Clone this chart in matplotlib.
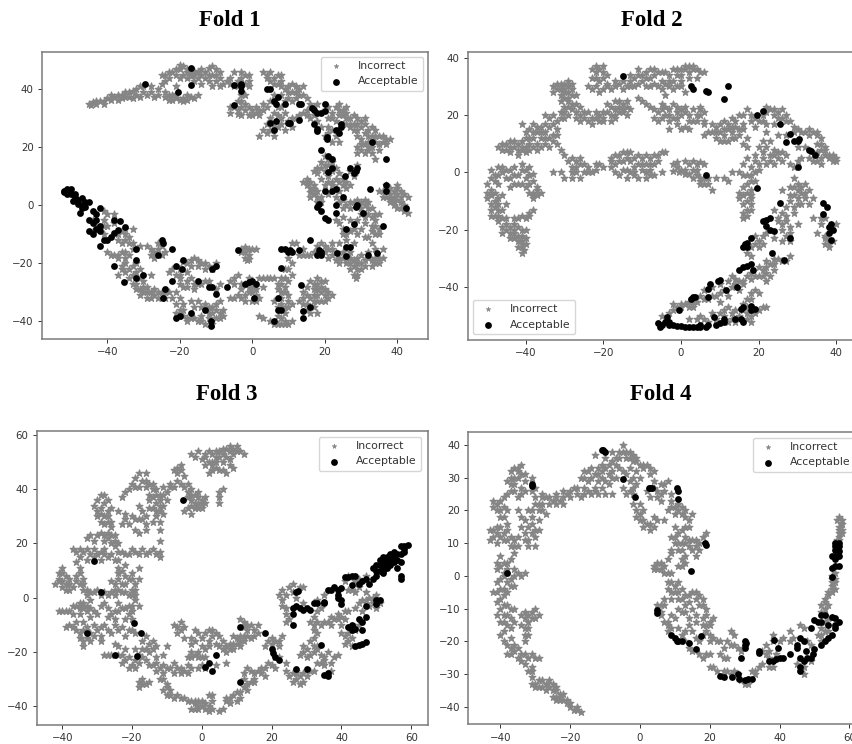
import matplotlib
matplotlib.use("Agg")
import matplotlib.pyplot as plt

W, H = 853, 744

fold1_incorrect = [(-45,35),(-44,35.5),(-43,35),(-42,36),(-41,36),(-40,37),(-39,36.5),(-38,37.5),(-37,38),(-36,38),(-35,39),(-34,39),(-33,39.5),(-32,40),(-31,41),(-33,37),(-36,37),(-30,39),(-29,38),(-28,39),(-27,37.5),(-28,41),(-26,40),
(-25,42),(-24,43),(-25,45),(-23,44),(-22,46),(-21,45),(-20,47),(-19,48),(-18,47),(-17,46),(-20,44),(-18,44),(-16,45),(-15,46),(-14,47),(-13,46),(-12,47.5),(-11,48),(-10,47),(-9,46),(-11,45),(-13,44),(-12,43),(-10,43),(-9,41),(-11,41),(-14,42),(-16,43),(-24,37.5),(-23,38),(-22,36.5),(-21,37),(-20,36.5),(-19,37),(-18,36.5),(-17,37.5),(-16,37),(-24,39),(-21,41),
(-7,43),(-6,42),(-5,41),(-4,43),(-3,44),(-2,45),(-1,45),(-3,46),(-5,46),(-1,43),(-1,41),(-3,38),(-5,34),(-6,32),(-4,33),(-3,36),(-2,35),(-3,31),(-1,34),(0,33),(1,32),(2,33),(3,35),(-1,31),(1,34),
(3,46),(4,45),(5,46),(6,44),(7,45),(8,45),(5,43),(7,42),(9,40),(10,41),(11,42),(12,41),(13,40),(11,39),(12,37),(10,37),(8,38),(14,38),(15,37),(16,35),(6,38),(5,36),(4,34),(8,34),(9,32),(7,31),(5,30),(4,28),(3,26),(2,24),(4,25),(6,24),(7,27),(9,26),(10,29),(12,30),(11,27),(14,32),(16,30),(15,33),(17,31),(18,29),(19,27),(20,33),(21,30),(22,32),(23,34),(24,35),(25,33),(26,34),(24,31),(26,30),(22,26),(21,27),(24,22),(22,22),(20,24),(25,28),
(27,30),(28,31),(29,30),(30,29),(31,30),(29,28),(27,27),(28,26),(30,27),(32,26),(33,27),(34,26),(33,24),(35,24),(36,22),(37,23),(38,23),(35,21),(33,20),(31,21),(30,19),(29,20),(31,18),(33,18),(32,22),(30,23),(29,24),(35,19),(34,16),
(15,9),(16,6),(17,4),(15,8),(17,7),(16,3),(18,3),(19,1),(14,8),(18,11),(17,12),(19,13),(20,12),(21,14),(22,15),(20,17),(19,15),(21,10),(23,9),(24,11),(22,8),(25,9),(20,7),(23,6),(24,5),(26,6),(27,7),(28,10),(27,12),(29,14),(21,4),(23,3),(25,2),(26,0),(27,-1),(28,1),(30,1),(31,2),(32,-1),(33,-4),(30,-3),(29,-5),(34,-5),(35,-3),(33,-9),(34,-7),(35,-10),(36,3),(35,5),(37,5),(38,4),(39,3),(40,6),(41,5),(42,4),(43,3),(38,1),(39,0),(40,2),(41,-1),(42,-2),(37,7),(40,7),(24,-6),(25,-8),(23,-5),(26,-10),(27,-9),(30,-8),(31,-6),(29,-10),(26,-12),(28,-13),(31,-11),(33,-13),(36,-15),
(12,-13),(14,-15),(15,-17),(17,-16),(20,-14),(21,-15),(22,-17),(24,-18),(25,-16),(26,-18),(23,-19),(27,-20),(28,-21),(29,-22),(30,-20),(28,-24),(28.5,-25),(31,-19),(32,-18),(33,-19),(34,-20),(35,-18),(36,-18),(30,-17),(22,-13),(24,-13),(27,-16),
(10,-18),(11,-20),(9,-22),(9,-25),(8,-27),(10,-26),(7,-29),(9,-30),(8,-32),(10,-33),(11,-34),(7,-35),(9,-37),(8,-39),(9,-40),(7,-41),(10,-41),(2,-38),(3,-39),(5,-40),
(16,-26),(18,-25),(20,-26),(19,-28),(17,-29),(21,-30),(20,-31),(22,-31),(18,-31),(15,-31),(14,-30),(13,-33),(15,-34),(17,-33),(19,-33),(16,-37),(18,-37),(17,-35),(20,-29),
(-3,-15),(-2,-16),(-1,-17),(0,-15),(-2,-18),(-1.5,-19),(-1,-25),(-2,-27),(0,-28),(1,-29),(-1,-30),(-2,-31),(0,-33),(1,-33),(2,-32),(-3,-29),(-4,-31),(-5,-32),(-6,-26),(-5,-25),(-4,-24),(2,-25),(4,-25),(5,-25),(6,-25),(3,-28),(-6,-32),
(-17,-19),(-16,-18),(-15,-19),(-14,-20),(-13,-20),(-12,-21),(-11,-22),(-10,-20),(-18,-20),(-20,-22),(-22,-22),(-23,-23),(-20,-25),(-18,-26),(-16,-27),(-14,-27),(-12,-26),(-10,-29),(-9,-27),(-16,-29),(-19,-28),(-21,-30),(-22,-32),(-21,-34),(-20,-36),(-19,-38),(-18,-40),(-16,-39),(-14,-38),(-17,-33),(-15,-33),(-13,-34),(-11,-35),(-10,-36),(-9,-37),(-8,-38),(-12,-37),(-10,-39),(-11,-41),(-13,-41),(-9,-33),
(-44,-5),(-43,-7),(-42,-8),(-44,-9),(-41,-10),(-40,-3),(-38,-6),(-36,-9),(-35,-10),(-37,-12),(-36,-13),(-34,-11),(-33,-13),(-40,-16),(-39,-17),(-38,-17),(-37,-18),(-36,-16),(-35,-18),(-34,-17),(-33,-15),(-31,-14),(-29,-14),(-28,-15),(-27,-16),(-26,-15),(-25,-14),(-24,-16),(-27,-18),(-36,-21),(-35,-23),(-33,-21),(-34,-25),(-32,-23),(-31,-22),(-33,-27),(-32,-29),(-31,-31),(-30,-30),(-29,-28),(-28,-30),(-27,-31),(-26,-32),(-25,-30),(-24,-32),(-23,-30),(-30,-26),(-29,-32),(-28,-24),(-37,-24)]

fold1_incorrect_more = [(-44.5,34.5),(-43,36),(-41,35),(-39,38),(-37,36.5),(-35,37.5),(-34,37.5),(-32,38),(-30,41),(-31,37.5),(-26,38),
(-23,46),(-24,45),(-21,47),(-20,48.5),(-19,45),(-18,46),(-17,44.5),(-16,46.5),(-15,44),(-14,45),(-12,45),(-10,45),(-9,44),(-8,42),(-23,36.5),(-21,38.5),(-19,36),(-18,38),(-15,38),(-22,38),
(-6,44),(-4,41),(-2,42),(-2,38),(-4,36),(-4,31.5),(-2,33),(0,31),(2,31),(3,33),(-3,34),(-6,34),
(4,44),(6,42),(8,43),(8,41),(10,39),(12,39),(13,38),(14,41),(11,36),(9,36),(7,34),(6,32),(8,30),(6,28),(5,26),(8,28),(11,30),(13,31),(15,31),(17,34),(18,35),(21,34),(22,30),(24,33),(25,31),(23,29),(26,32),(23,24),(21,25),
(27,28),(29,26),(31,28),(31,25),(32,24),(34,24),(34,22),(32,20),(30,21),(29,18),(32,19),(28,28),(26,28),(36,24),(37,21),
(15,7),(16,4.5),(17,5.5),(16,8),(18,5),(18,1),(19,3),(18,13),(20,14),(21,16),(22,12),(23,13),(24,8),(25,7),(26,8),(21,8),(22,7),(19,9),
(24,1),(25,-1),(27,1),(29,2),(30,-1),(31,-4),(32,-3),(33,-1),(32,1),(34,-3),(31,0),(33,-7),(35,-8),(34,-10),(32,-11),(28,-8),(27,-5),(25,-10),(25,-4),
(36,5),(38,6),(39,5),(41,3),(40,4),(39,1.5),(40,-1),(41,1),(38,2.5),(42,0),(43,-2.5),(37,3),
(18,-14),(19,-13),(20,-16),(21,-18),(23,-16),(25,-18),(26,-20),(27,-18),(28,-19),(29,-20),(29,-24),(27,-22),(30,-22),(31,-21),(33,-21),(34,-18),(35,-20),(32,-16),(34,-15),(29,-18),(24,-20),(22,-15),(13,-17),(14,-17),(11,-13),(16,-17),
(10,-22),(11,-24),(8,-25),(7,-27),(9,-28),(8,-30),(10,-31),(6,-33),(8,-34),(10,-35),(9,-35),(7,-38),(8,-41),(9,-41),(6,-41),(11,-40),
(15,-28),(17,-27),(18,-27),(19,-30),(21,-32),(20,-33),(16,-32),(14,-32),(18,-33),(15,-36),(14,-34),(18,-29),(19,-26),(17,-31),
(-3,-16),(-1,-15),(-1,-18.5),(-2,-14.5),(1,-15),(-1,-28),(-3,-27),(-2,-33),(-3,-32),(-5,-27),(0,-30),(1,-31),(3,-25),
(-19,-19.5),(-17,-21),(-15,-21),(-13,-22),(-20,-24),(-18,-23),(-21,-24),(-17,-25),(-15,-27),(-13,-26),(-18,-28),(-20,-27),(-20,-32),(-19,-34),(-21,-37),(-19,-36),(-18,-39),(-17,-39),(-15,-40),(-14,-40),(-12,-39),(-11,-37),(-10,-34),(-8,-36),(-9,-39),(-12,-35),(-14,-35),(-16,-35),
(-41,-2),(-41,-5),(-40,-7),(-38,-3),(-37,-10),(-35,-12),(-34,-13),(-33,-8),(-35,-8),(-41,-7),
(-37,-17),(-35,-16),(-32,-20),(-35,-20),(-36,-22),(-34,-22),(-33,-24),(-31,-25),(-32,-27),(-30,-28),(-31,-29),(-29,-30),(-28,-32),(-27,-29),(-25,-32),(-26,-30),(-24,-30),(-28,-17),(-25,-17),(-26,-13)]

fold1_acceptable = [(-52,5),(-51.5,4.5),(-51,5.5),(-50.5,5),(-50,4),(-52,4.5),(-51,4),(-50,5.5),(-49,4),(-49,3),(-49.5,1.5),(-48,2),(-47,2.5),(-48,0.5),(-47,0),(-46,1),(-47,-1),(-46,-0.5),(-47.5,-2.5),(-45,1),(-42,-1),(-44,-2),(-43,-3),(-45,-5),(-43,-5),(-44,-6),(-42,-7),(-43,-8),(-45,-9),(-44,-10),(-42,-9),(-38,-5),(-36.5,-5.5),(-35,-7.5),(-37,-8.5),(-38,-9.5),(-39,-11),(-40,-12),(-41,-12),(-42,-14),(-32,-15),(-32,-19),(-38,-21),(-35.5,-26.5),(-32,-25),(-30,-24),(-25,-12),(-24.5,-13),(-22,-15),(-26,-17),(-21,-21),(-19.5,-22),(-19,-19),(-22,-26),(-24,-29),(-24.5,-32),(-15,-26),(-12,-28),(-11,-28),(-10,-21),(-11,-22),(-7,-28),(-10,-30.5),(-21,-39),(-20,-38),(-17,-37),(-13,-36),(-11.5,-40),(-11.5,-41.5),(-4,-15.5),(-2,-27),(-1,-26.5),(0,-26),(1,-27),(0.5,-32),(7,-32),(7,-36),(8,-36),(6,-40),(8,-21.5),(8,-15),(9,-15),(10,-16),(10.5,-15.5),(11,-16),(13,-15.5),(16,-12),(18.5,-15.5),(18,-17),(19,-16),(19,-17),(13.5,-27.5),(14,-36.5),(14,-39),(16,-35),
(23.5,-16.5),(26,-14.5),(27,-14.5),(26,-17.5),(32,-17),(34.5,-16.5),(26,-8),(28,-6.5),(36,-7),(18,-0.5),(18.5,0.5),(19,-2),(20,-4.5),(21,-5),(23,0),(23,-2.5),(25,3),(20,5),(22,5),(23,5.5),(28.5,-0.5),(29,0),(30.5,-2.5),(32.5,5.5),(37,5),(37,7),(42.5,-1),(37,16),(19,19),(21,17),(22,16),(22,13),(21,11.5),(25.5,10),(27,13),(28,11),(28.5,12),(29,13),(33,22),(20.5,23),(20.5,23.5),(18,25.5),(18,26.5),(17,28),(23,26),(24,25),(24.5,27),(24.5,28),(16.5,33.5),(17,33),(18,32),(19,32),(20,32.5),(20,35),(13,35),(13.5,35),(13,29.5),(10,28.5),(10.5,28.5),(6.5,29),(5,28.5),(6,26),(5,40),(4,40),(6,36),(6.5,35),(7,37.5),(9,35),(-5,34.5),(-5,41.5),(-3,41),(-3,42),(-3,39.5),(-20.5,39),(-17,41.5),(-17,47.5),(-29.5,42)]

fold2_incorrect = [(-50,-9),(-49,-8),(-48,-10),(-47,-9),(-46,-8),(-49,-6),(-50,-4),(-49,-2),(-48,-1),(-49,1),(-47,2),(-46,0),(-45,-2),(-47,-4),(-44,-5),(-42,-4),(-40,-5),(-43,2),(-41,1),(-39,2),(-42,-1),(-40,-2),(-38,-3),(-39,-1),(-45,-11),(-46,-13),(-49,-13),(-48,-15),(-47,-17),(-46,-19),(-45,-20),(-44,-21),(-43,-20),(-45,-16),(-43,-23),(-42,-24),(-41,-25),(-40.5,-27),(-41,-28),(-42,-26),(-40,-25),(-41,-20),(-42,-19),(-41,-22),(-43,-16),(-41,-15),(-40,-16),(-39,-14),(-42,-16),(-38,-13),(-37,-5),(-37,-8),(-38,-9),(-39,-7),(-36,-7),
(-46,8),(-47,9),(-45,10),(-44,11),(-43,9),(-44,7),(-42,6),(-41,8),(-42,10),(-40,9),(-41,11),(-39,10),(-38,12),(-37,10),(-36,12),(-35,14),(-34,16),(-37,14),(-39,15),(-41,17),(-40,14),(-35,10),(-33,11),(-34,9),(-32,13),(-34,19),(-35,20),(-33,20),(-31,21),(-30,19),(-29,20),(-32,18),
(-33,30),(-32,31),(-31,29),(-30,31),(-29,32),(-29,28),(-30,26),(-31,25),(-29,25),(-28,29),(-27,27),(-30,23),(-28,22),(-27,21),(-26,20),(-25,19),(-24,18),(-23,17),(-22,19),(-21,18),(-20,18),(-24,21),(-22,21),(-19,21),(-18,20),(-17,22),(-16,23),(-15,22),(-14,23),(-18,23),(-13,22),(-16,21),
(-23,36),(-22,35),(-21,36),(-20,35),(-20,33),(-21,32),(-23,33),(-24,30),(-23,29),(-22,30),(-21,28),(-20,29),(-19,30),(-18,29),(-17,30),(-16,31),(-15,29),(-14,30),(-13,32),(-12,33),(-11,34),(-10,32),(-12,30),(-9,35),(-8,36),(-7,36),(-6,35),(-5,35),(-4,35),(-3,34),(-8,33),(-6,30),(-5,29),(-4,27),(-3,30),(-2,32),(-1,34),(0,36),(1,37),(2,37),(3,36),(4,36),(5,35),(6,35),(0,30),(1,28),(-11,26),(-10,25),(-9,24),(-8,23),(-7,22),(-7,19),(-6,18),(-5,19),(-4,20),(-3,22),(-2,24),(-1,21),(0,20),(1,21),(2,20),(3,22),(-3,18),(-1,17),(0,15),(1,16),(2,15),(-3,15),(4,20),(5,20),(6,18),(6,21),(4,18),
(-32,10),(-31,8),(-30,6),(-33,0),(-31,0),(-30,-2),(-28,-2),(-28,2),(-27,4),(-26,5),(-28,5),(-25,3),(-24,2),(-23,0),(-22,3),(-21,3),(-20,2),(-25,0),(-26,-2),(-18,5),(-17,6),(-16,6),(-15,7),(-14,7),(-13,7),(-18,2),(-17,0),(-16,-1),(-15,1),(-14,-2),(-13,0),(-15,4),(-12,5),(-11,3),(-10,5),(-9,6),(-8,5),(-7,6),(-6,6),(-5,7),(-4,7),(-12,0),(-11,-2),(-9,-2),(-8,1),(-10,1),(-7,-1),(-5,0),(-2,3),(-1,2),(0,1),(1,4),(2,3),(3,1),(-2,0.5),(4,-1),(5,-3),(6,-2),(7,-4),(8,-6),(4,3),(6,3),(5,-2),(9,-2),(11,-2),(12,-3),
(6,13),(8,14),(9,12),(10,11),(11,13),(12,15),(9,16),(8,17),(12,11),(13,14),(14,16),(15,13),(16,10),(17,9),(14,18),(13,19),(15,20),(16,17),(17,22),(18,20),(20,18),(21,20),(22,23),(23,22),(24,20),(25,21),(26,19),(27,18),(28,18),(19,16),(22,14),(23,11),(25,13),(20,9),(21,7),(23,6),(24,8),(25,5),(26,4),(27,6),(28,3),(24,3),(22,3),(29,2),(30,4),(31,5),(19,4),(17,5),(18,2),(19,0),(16,3),(13,0),(15,0),(17,-1),(19,-3),(18,-6),(17,-7),(16,-5),(15,-7),(17,-10),(18,-11),(18,-13),(16,-14),(17,-15),
(29,-2),(30,-4),(31,-7),(32,-9),(33,-6),(32,-4),(29,-8),(28,-10),(27,-12),(29,-14),(31,-11),(33,-11),(28,-5),(26,-6),(25,-16),(26,-18),(24,-13),(27,-15),(28,-19),(30,-18),(28,-21),(26,-24),(28,-24),(22,-21),(20,-24),(19,-22),(18,-26),(17,-28),(18,-29),(34,-16),(36,-18),(35,-21),(37,-22),(38,-24),(38,-26),(37,-25),(40,-18),(37,-16),
(27,13),(29,14),(30,15),(32,14),(33,13),(34,14),(35,13),(36,12),(35,10),(36,8),(37,6),(36,5),(33,5),(34,4),(38,6),(39,5),(40,5),(39,4),(32,9),(30,9),
(28,-29),(27,-31),(25,-30),(24,-32),(22,-31),(20,-33),(21,-36),(23,-36),(24,-34),(22,-38),(19,-36),(18,-37),(16,-38),(14,-37),(13,-40),(15,-41),(12,-38),(10,-39),(8,-40),(6,-41),(7,-44),(5,-43),(3,-45),(1,-46),(-1,-47),(-2,-48),(0,-47),(2,-47),(-3,-49),(-5,-50),(18,-42),(17,-44),(16,-46),(20,-42),(21,-47),(19,-49),(17,-49),(15,-50),(13,-49),(11,-48),(9,-51),(7,-52),(5,-50),(12,-52),(14,-52),(16,-48),(18,-50),(10,-45)]

fold2_incorrect_more = [(-50,-7),(-48,-7),(-47,-11),(-48,-3),(-47,-1),(-46,2),(-45,1),(-44,-2),(-44,1),(-43,-4),(-41,-4),(-39,-4),(-43,-1),(-41,3),(-40,1),(-38,-0.5),(-49,-11),(-47,-13),(-48,-12),(-49,-15),(-47,-15),(-46,-16),(-45,-18),(-46,-21),(-44,-19),(-44,-23),(-43,-21),(-43,-18),(-42,-22),(-41,-24),(-40,-23),(-40,-20),(-41,-26),(-39,-15),(-37,-6),(-38,-7),(-38,-8),
(-46,10),(-45,8),(-44,9),(-43,11),(-42,8),(-40,7),(-39,8),(-41,9),(-38,9),(-37,8),(-36,9),(-39,12),(-40,12),(-38,14),(-36,14),(-36,16),(-35,17),(-37,16),(-38,17),(-34,12),(-33,13),(-35,12),(-32,15),(-33,17),(-30,21),(-31,19),(-27,19),
(-33,28),(-32,29),(-31,31),(-30,28),(-30,29),(-29,30),(-28,31),(-28,27),(-29,26),(-31,27),(-29,23),(-28,24),(-27,24),(-26,23),(-25,21),(-26,18),(-23,19),(-21,20),(-20,21),(-20,19),(-18,18),(-17,19),(-17,20),(-15,21),(-15,24),(-14,25),(-16,25),(-17,25),(-19,24),(-14,20),
(-22,37),(-20,37),(-19,34),(-22,33),(-19,31),(-17,32),(-15,32),(-13,30),(-11,31),(-13,34),(-10,34),(-9,33),(-11,36),(-9,30),(-8,30),(-7,31),(-7,34),(-5,32),(-3,32),(-4,31),(-1,30),(-2,29),(-2,36),(-1,36),(0,34),(2,35),(3,37),(1,36),(2,33),(4,33),(0,32),
(-5,24),(-6,21),(-5,22),(-4,23),(-3,20),(-2,19),(-1,19),(-1,23),(1,23),(0,22),(2,18),(3,18),(5,22),(5,23),(6,17),
(-29,4),(-27,2),(-27,0),(-28,0),(-26,3),(-24,0),(-22,1),(-18,4),(-16,4),(-17,3),(-14,5),(-13,4),(-14,1),(-12,2),(-10,3),(-11,6),(-9,3),(-9,0),(-8,-1),(-12,-1),(-8,3),(-7,3),(-6,4),
(-1,3.5),(-0.5,0),(1,1),(1,-0.5),(2,-0.5),(3,-2),(4,1),(6,-4),(5,-4),(7,-2),(3,4),(5,3.5),
(7,14),(9,14),(10,14),(11,15),(10,17),(11,18),(12,17),(13,16),(11,11),(13,12),(14,12),(15,15),(16,15),(17,12),(18,18),(19,19),(16,20),(21,18),(22,21),(24,22),(26,22),(25,19),(27,20),(29,16),(24,17),(22,17),(21,11),(22,9),(24,6),(23,4),(25,7),(26,7),(21,5),(19,6),(20,3),(20,1),(18,-1),(16,-1),(18,-3),(17,-4),(16,-8),(18,-8),(15,-9),(16,-11),(18,-9),(17,-13),(16,-16),
(30,-6),(31,-5),(29,-5),(30,-9),(32,-7),(30,-11),(28,-8),(34,-9),(29,-12),(26,-14),(25,-17),(27,-17),(26,-20),(24,-23),(27,-22),(21,-22),(21,-25),(19,-25),(20,-26),(38,-25),(39,-24),(37,-23),(36,-16),
(31,14),(33,15),(35,14),(36,10),(37,9),(37,8),(35,7),(36,3),(35,4),(38,5),(40,4),(39,6),
(26,-31),(24,-30),(23,-32),(22,-33),(21,-34),(20,-36),(22,-35),(18,-35),(17,-36),(16,-39),(15,-38),(14,-39),(13,-36),(11,-41),(10,-42),(12,-43),(9,-43),(8,-43),(6,-44),(4,-45),(2,-45),(0,-46),(-2,-46),(3,-47),(18,-44),(19,-41),(17,-47),(20,-48),(22,-47),(14,-48),(12,-47),(10,-49),(8,-49),(6,-51),(4,-51),(2,-51),(13,-51),(17,-51),(18,-52),(11,-50)]

fold2_acceptable = [(-15,33.5),(2.5,30),(3,29),(6.5,28.5),(7,28),(12,30),(11,25.5),(19.5,20),(21,21.5),(25.5,17),(28,13.5),(27,10.5),(29,11),(30,11),(30.5,11.5),(33,8),(33.5,7.5),(34.5,6),(30,2),(6.5,-1),(19.5,-5.5),(25.5,-10.5),(36.5,-10.5),(37.5,-12),(36.5,-14.5),(38,-19),(38.5,-18),(39,-20),(38,-21),(38.5,-23.5),(21,-17),(22,-16.5),(23,-16),(22,-18.5),(23,-20),(24,-20.5),(28,-23),(18,-23),(17,-24.5),(16.5,-25),(17,-26),(16,-26),(23.5,-28),(26.5,-30.5),(15,-34),(16,-33),(17,-32.5),(18,-32),(18.5,-34),(10,-37.5),(9.5,-38),(7.5,-39),(7,-40.5),(7,-43.5),(14.5,-40),(11.5,-41),(3,-43.5),(2.5,-44),(3.5,-43.5),(-0.5,-48),(15.5,-47.5),(16,-47),(18,-46.5),(18,-48),(19,-47.5),(15.5,-51),(14,-51),(16,-52),(11,-51),(11,-52),(10,-52.5),(9,-53),(8.5,-50.5),(7,-53),(6.5,-54),(5,-53),(5,-54),(4,-54),(3,-54),(2,-54),(1,-54),(0,-53.5),(-1,-53.5),(-2,-53),(-3,-53),(-3,-52),(-4,-52),(-3.5,-50.5),(-5,-53),(-6,-52.5),(-5.5,-54)]

fold3_incorrect = [(-3,53),(-2,52),(0,51),(1,52),(2,50),(3,53),(4,52),(5,54),(6,53),(7,55),(8,54),(9,55),(10,56),(11,54),(12,53),(8,51),(6,50),(4,48),(3,47),(2,46),(5,47),(7,46),(9,48),(-8,47),(-7,48),(-6,49),(-5,45),(-7,43),(-9,42),(-5,41),(-4,42),(-3,40),(-2,38),(-1,37),(0,36),(-2,35),(-1,33),(-4,33),(-5,32),(-3,31),(1,35),(0,33),(5,39),(5,37),(5,35),(6,40),
(-9,41),(-10,39),(-10,36),(-11,34),(-12,32),(-12,28),(-13,30),(-14,33),(-15,36),(-15,38),(-13,40),(-12,38),(-16,41),(-17,43),(-18,46),(-19,44),(-20,42),(-22,39),(-23,37),(-16,46),(-14,42),(-13,35),(-17,32),(-18,34),(-14,28),(-16,27),(-18,24),(-19,25),(-12,25),
(-28,38),(-30,36),(-27,36),(-29,33),(-31,34),(-30,30),(-28,30),(-26,33),(-24,32),(-28,27),(-26,26),(-27,24),(-25,23),(-30,23),(-32,23),(-28,21),(-26,20),(-24,20),(-22,29),(-20,30),(-23,27),
(-25,19),(-23,17),(-21,16),(-19,17),(-17,18),(-15,17),(-13,16),(-12,15),(-12,21),(-37,18),(-35,18),(-34,17),(-32,16),(-33,14),(-35,15),(-29,14),(-27,15),(-25,14),(-31,18),(-28,18),(-35,11),(-36,8),(-34,7),(-35,5),(-34,3),(-33,1),(-31,2),(-29,1),(-27,1),(-25,3),(-23,2),(-21,1),(-25,5),(-24,7),(-26,6),(-22,5),(-20,7),(-19,5),(-22,12),(-23,10),(-18,11),(-20,9),(-19,1),
(-40,9),(-41,7),(-40,6),(-39,8),(-38,7),(-42,5),(-40,4),(-38,3),(-39,3),
(-40,-5),(-38,-5),(-37,-6),(-36,-3),(-35,-4),(-34,-2),(-33,-3),(-32,-1),(-31,-5),(-29,-3),(-27,-4),(-26,-6),(-25,-8),(-24,-2),(-22,-4),(-20,-3),(-19,-1),(-18,-3),(-21,-6),(-38,-10),(-37,-11),(-36,-12),(-34,-9),(-32,-7),(-33,-11),(-33,-15),(-31,-14),(-35,-15),(-34,-18),(-29,-11),(-27,-12),(-25,-10),(-23,-11),(-21,-12),(-19,-13),(-29,-14),
(-28,-21),(-26,-21),(-24,-18),(-23,-21),(-23,-24),(-21,-22),(-20,-25),(-19,-19),(-18,-24),(-17,-19),(-17,-16),(-16,-14),(-15,-17),(-14,-19),(-17,-22),(-15,-25),(-18,-31),(-17,-30),(-16,-32),(-14,-25),(-13,-22),(-12,-26),(-11,-21),(-10,-18),(-12,-30),(-11,-28),(-10,-32),(-9,-34),(-10,-36),
(-7,-36),(-6,-37),(-4,-38),(-2,-38),(0,-38),(-1,-40),(1,-41),(2,-40),(3,-38),(2,-36),(-2,-41),
(-9,-26),(-8,-28),(-7,-26),(-5,-27),(-4,-25),(-3,-22),(-2,-21),(-1,-20),(0,-18),(-3,-17),(1,-22),(2,-18),(3,-14),(2,-12),(-1,-13),(-2,-12),(-7,-11),(-8,-10),(-6,-12),(-5,-15),(-3,-26),(0,-25),(4,-13),(5,-14),(5,-18),(7,-18),(8,-17),(9,-19),(10,-17),(11,-16),(12,-14),(13,-12),(14,-10),(11,-8),(12,-9),(15,-12),(16,-13),(15,-14),(9,-14),(7,-24),(4,-25),(5,-42),(6,-41),(7,-38),(8,-37),(9,-36),(10,-35),(11,-37),(12,-33),(13,-32),(14,-31),(12,-28),(13,-26),(15,-28),(16,-27),(17,-28),(18,-26),(20,-25),(21,-22),(20,-17),(19,-16),(21,-16),(22,-18),(23,-14),(24,-27),(25,-29),(26,-28),(27,-30),(28,-29),(29,-31),(31,-27),(28,-21),(29,-20),(30,-19),(32,-18),(31,-16),(32,-12),(33,-13),(34,-21),(33,-24),(35,-25),(37,-27),(36,-20),(38,-22),(39,-21),(31,-9),(32,-7),(34,-4),(33,-1),(35,1),
(23,-1),(24,1),(25,4),(26,5),(28,4),(24,-4),(25,-8),(29,-2),(36,-9),(37,-10),(38,-8),(39,-6),(41,-5),(40,-10),(42,-13),(43,-15),(41,-17),(44,-11),(46,-5),(46,-1),(47,2),(48,-3),(50,-4),(49,0),(51,-2),(45,4),(44,6),(42,8),(43,3)]

fold3_incorrect_more = [(-1,54),(1,53),(2,54),(4,54),(6,55),(8,56),(9,53),(10,54),(7,52),(5,52),(3,50),(1,49),(3,49),(4,50),(6,47),(8,49),(-7,46),(-6,47),
(-8,41),(-6,42),(-4,39),(-3,38),(-3,36),(-1,35),(-1,39),(-2,33),(-3,34),(0,35),(1,37),(-4,37),
(-11,38),(-11,41),(-13,38),(-14,40),(-15,42),(-16,43),(-18,41),(-21,40),(-19,41),(-14,37),(-12,36),(-11,31),(-13,32),(-12,34),(-15,33),(-16,30),(-17,29),(-16,25),(-19,29),(-18,29),
(-29,38),(-28,35),(-29,31),(-30,32),(-27,32),(-27,30),(-29,28),(-27,28),(-26,28),(-26,23),(-29,24),(-28,23),(-31,21),(-33,22),(-27,22),(-25,21),(-22,31),(-21,27),
(-24,17),(-22,16),(-20,18),(-18,16),(-16,16),(-14,18),(-12,17),(-36,17),(-33,18),(-30,16),(-28,16),(-26,16),(-24,14),(-31,15),(-29,17),(-36,13),(-35,9),(-36,6),(-34,5),(-33,3),(-32,2),(-30,3),(-28,2),(-26,2),(-24,3),(-22,2),(-20,1),(-20,3),(-24,9),(-23,5),(-21,7),(-25,1),(-19,3),(-18,7),(-22,8),(-24,11),
(-41,6),(-39,5),(-38,5),(-41,9),(-40,11),(-37,4),
(-41,-5),(-39,-5),(-37,-3),(-35,-2),(-35,-6),(-33,-5),(-34,-4),(-32,-4),(-30,-6),(-28,-2),(-27,-7),(-25,-5),(-24,-5),(-23,-4),(-21,-3),(-20,-5),(-22,-8),(-20,-8),(-39,-11),(-36,-9),(-34,-12),(-35,-13),(-32,-13),(-32,-16),(-30,-12),(-34,-16),(-28,-10),(-26,-13),(-24,-12),(-22,-14),(-20,-12),(-29,-16),(-31,-10),
(-27,-21),(-25,-17),(-24,-21),(-22,-19),(-22,-23),(-19,-23),(-19,-26),(-21,-26),(-18,-21),(-16,-19),(-16,-23),(-15,-20),(-13,-18),(-14,-16),(-17,-32),(-15,-31),(-18,-33),(-13,-24),(-13,-27),(-11,-25),(-11,-30),(-10,-26),(-10,-33),(-11,-34),(-9,-36),
(-8,-37),(-5,-37),(-3,-38),(-1,-38),(1,-39),(0,-40),(-1,-41),(3,-41),(2,-42),(-2,-39),(3,-36),(-3,-41),
(-8,-24),(-6,-28),(-6,-26),(-4,-28),(-4,-22),(-3,-20),(-1,-22),(0,-22),(1,-19),(0,-15),(-2,-16),(1,-13),(3,-12),(-1,-26),(1,-26),(-6,-9),(-7,-13),(-5,-11),(-3,-15),(2,-16),(4,-17),(6,-16),(6,-19),(7,-20),(9,-17),(8,-19),(11,-18),(12,-16),(13,-14),(14,-15),(12,-11),(13,-10),(11,-14),(16,-10),(10,-15),(7,-37),(8,-39),(10,-38),(11,-35),(13,-34),(15,-31),(12,-30),(14,-27),(15,-30),(17,-26),(18,-29),(19,-24),(21,-26),(22,-22),(18,-18),(20,-15),(22,-16),(24,-24),(27,-27),(26,-31),(28,-32),(27,-28),(29,-28),(30,-29),(32,-27),(32,-20),(31,-21),(33,-18),(30,-22),(29,-18),(32,-15),(33,-19),(35,-22),(35,-23),(37,-24),(34,-24),(32,-10),(33,-9),(33,-5),(34,-10),(35,-9),
(22,1),(23,3),(26,2),(23,-3),(24,-6),(24,-9),(27,0),(29,4),(37,-7),(39,-8),(40,-7),(41,-8),(40,-13),(41,-14),(42,-16),(43,-18),(44,-12),(45,-10),(42,-5),(44,-4),(45,-2),(47,-1),(48,0),(49,-2),(50,1),(42,3),(44,2),(41,6),(45,7),(47,8)]

fold3_acceptable = [(-5.5,36),(-31,13.5),(-29,2),(-33,-13),(-19.5,-9.5),(-17.5,-13),(-25,-21),(-18.5,-21.5),(4,-21),(2,-24),(1,-25.5),(3,-27),(11,-11),(18,-13),(11,-31),(20,-19),(20.5,-20.5),(21,-22),(22,-23),(27,-26.5),(30,-26.5),(34,-17.5),(35,-28.5),(36,-29),(36,-28),
(26,-6),(26,-4),(26,-10),(27,-3),(28,-4),(27,2),(27.5,2.5),(29,-4.5),(30,-4),(31,-4.5),(32,-2),(33,-2),(35,-1.5),(35,-2),(36,3),(37,3),(38,4),(39,3),(40,3.5),(39,1),(39,0),(40,-1),(40,-2.5),(41,7.5),(42,7.5),(43,8),(44,8),(45,5),(43,4.5),(46,6),(47,7),(48,5),(47,-3),(50,-2.5),(51,-1),(50,-1),(47,-7),(45,-8),(46,-9),(43,-10),(42,-11),(43,-12),(44,-11.5),(46,-12),(44,-18),(45,-17.5),(46,-17),(47,-16.5),(49,7),(50,8),(50,10),(49,11),(51,12),(52,10),(52,13),(53,14),(53,15),(54,12),(55,13),(54,16),(56,14),(55,17),(57,16),(57,13),(56,11),(57,8),(57,7),(52,9),(53,11),(58,18),(58,19),(59,19.5),(57,19),(58,17),(51,10),(52,11),(53,12),(54,14),(55,15),(52,15),(56,16),(51,14),(50,12)]

fold4_incorrect = [(-41,22),(-42,21),(-40,20),(-39,18),(-40,23),(-38,25),(-37,28),(-36,30),(-37,32),(-36,33),(-35,33),(-34,34),(-35,30),(-33,29),(-31,30),(-36,26),(-35,24),(-34,25),(-30,24),(-29,22),(-28,25),(-27,24),(-26,22),(-25,23),(-24,22),(-23,23),(-22,24),(-21,25),(-20,26),(-19,27),(-18,25),(-17,24),(-16,25),(-14,25),(-15,26),(-13,26),
(-42,14),(-41,13),(-40,12),(-39,13),(-38,14),(-43,11),(-41,10),(-38,11),(-36,11),(-35,9),(-36,7),(-37,5),(-33,13),(-32,15),(-31,13),(-30,12),(-30,9),(-31,18),(-33,17),(-29,17),(-28,20),(-27,19),(-35,20),(-38,16),(-32,20),(-39,4),(-40,3),(-41,2),(-38,2),(-37,-1),(-40,-1),(-41,-2),(-42,-5),(-39,-4),(-37,-3),(-35,1),(-34,0),(-33,1),(-36,-3),
(-40,-7),(-39,-9),(-41,-12),(-40,-14),(-39,-12),(-38,-15),(-37,-13),(-36,-10),(-37,-16),(-40,-18),(-38,-21),(-37,-22),(-38,-24),(-36,-23),(-35,-25),(-34,-24),(-33,-27),(-32,-29),(-31,-24),(-29,-25),(-34,-12),(-33,-11),(-32,-12),(-31,-13),(-30,-10),(-29,-12),(-33,-16),(-32,-18),(-33,-20),
(-31,-31),(-30,-33),(-29,-32),(-28,-34),(-27,-33),(-26,-34),(-25,-35),(-24,-37),(-23,-38),(-25,-33),(-24,-34),(-22,-36),(-22,-38),(-21,-39),(-20,-40),(-19,-41),(-18,-41),(-17,-41.5),(-23,-36),
(-16,30),(-15,32),(-14,33),(-15,29),(-13,31),(-12,29),(-13,27),(-11,34),(-10,36),(-13,37),(-9,31),(-8,32),(-7,30),(-9,28),(-8,25),(-6,33),(-5,40),(-6,36),(-8,38),(-4,38),(-3,36),(-2,37),(-1,35),(0,34),(2,34),(3,33),(4,32),(-4,31),(-3,29),(-2,27),(-5,27),(-4,25),(-2,22),(-1,20),(0,22),(1,20),(0,17),(1,15),(3,14),(4,15),(5,17),(2,26),(4,27),(5,24),(6,28),(7,26),(8,29),(9,23),(10,21),(8,20),(11,20),(12,19),(13,18),(14,17),(15,19),(7,17),(10,15),(11,13),(9,12),(10,10),(9,8),(11,8),(12,10),(13,6),(14,9),(15,11),(16,6),(17,8),(18,12),(19,13),(12,5),(11,3),(5,4),(4,3),(6,2),(7,3),(8,5),(9,1),(10,-3),(11,-2),(9,-5),(8,-2),(7,-7),(6,-9),(5,-9),(11,-5),(12,-7),(13,-9),(14,-8),(15,-5),(16,-7),(17,-6),(18,-9),(12,-11),(14,-13),(16,-12),(18,-13),(19,-12),(21,-13),(20,-15),(9,-12),(7,-14),(8,-17),(11,-16),(12,-18),(15,-17),(17,-20),(19,-17),(20,-20),(21,-19),(23,-20),(25,-20),(27,-18),(28,-22),(13,-20),(15,-23),(18,-25),(19,-24),(24,-25),(25,-25),(20,-28),(22,-29),(25,-29),(28,-30),(30,-33),(31,-33),(33,-29),(34,-28),(36,-21),(37,-25),(38,-20),(37,-28),(41,-19),(43,-20),(46,-15),(48,-20),(47,-30),(46,-28),(44,-19),(51,-18),(53,-14),(54,-17),(55,-13),(49,-26),
(57,18),(57.5,16),(58,14),(57,12),(58,13),(56.5,11),(56,3),(55,0),(56,-2),(55,-3),(55,-5),(56,-4),(54,-6),(53,-8),(53,-10),(52,-11)]

fold4_incorrect_more = [(-42,23),(-41,20),(-39,21),(-38,20),(-40,18),(-39,24),(-37,26),(-37,30),(-38,29),(-35,32),(-34,31),(-33,31),(-36,28),(-34,27),(-33,26),(-31,26),(-30,27),(-30,22),(-28,22),(-28,24),(-26,24),(-24,24),(-24,25),(-22,22),(-22,26),(-20,24),(-18,27),(-16,27),
(-43,14),(-42,12),(-40,15),(-41,15),(-39,11),(-37,12),(-37,9),(-36,9),(-35,12),(-34,15),(-33,11),(-31,16),(-30,14),(-32,11),(-32,9),(-34,18),(-31,20),(-29,20),(-29,14),(-39,1),(-41,4),(-40,6),(-38,4),(-38,-2),(-39,0),(-41,-5),(-40,-4),(-38,-5),(-39,-6),(-36,0),(-36,2),
(-41,-8),(-40,-10),(-38,-12),(-37,-10),(-38,-9),(-39,-14),(-39,-17),(-36,-14),(-39,-20),(-37,-19),(-36,-21),(-37,-24),(-35,-22),(-34,-26),(-32,-25),(-33,-24),(-31,-28),(-30,-25),(-33,-13),(-31,-11),(-30,-13),(-32,-14),(-34,-15),(-32,-16),(-33,-18),(-31,-29),
(-31,-33),(-30,-34),(-29,-34),(-28,-32),(-27,-35),(-26,-32),(-25,-37),(-24,-35),(-24,-38),(-23,-37),(-21,-38),(-20,-39),(-18,-40),
(-17,30),(-16,32),(-14,30),(-12,31),(-11,30),(-12,33),(-11,32),(-10,33),(-9,34),(-8,35),(-7,36),(-8,30),(-10,29),(-11,27),(-10,25),(-12,25),(-7,34),(-5,38),(-4,36),(-6,38),(-3,38),(-2,35),(-1,36),(1,34),(1,33),(3,31),(-5,32),(-3,33),(-1,32),(0,30),(-2,30),(-2,25),(-1,28),(-3,26),(-1,18),(0,19),(1,17),(2,16),(3,16),(4,18),(3,24),(4,29),(5,26),(6,25),(7,28),(6,23),(9,25),(9,21),(10,19),(11,22),(12,21),(13,20),(14,15),(13,15),(12,14),(10,12),(11,10),(12,8),(13,10),(13,12),(14,11),(15,8),(16,9),(16,11),(17,10),(12,3),(13,4),(9,7),(5,2),(6,4),(7,1),(8,1),(4,2),(9,-2),(8,-4),(9,-7),(7,-9),(6,-11),(10,-5),(11,-7),(12,-4),(13,-6),(14,-6),(16,-5),(17,-9),(18,-7),(19,-10),(11,-10),(13,-11),(15,-10),(16,-14),(18,-15),(20,-14),(19,-15),(8,-14),(6,-12),(8,-15),(9,-16),(10,-13),(13,-17),(14,-15),(16,-19),(18,-18),(20,-18),(22,-20),(24,-22),(26,-21),(27,-21),(29,-23),(26,-17),(14,-22),(17,-24),(20,-24),(23,-24),(21,-28),(24,-29),(26,-30),(27,-29),(29,-32),(32,-29),(33,-30),(35,-27),(36,-24),(35,-23),(37,-23),(39,-24),(38,-28),(38,-18),(40,-20),(43,-17),(45,-27),(47,-28),(49,-21),(52,-16),(52,-18),(54,-13),(53,-17),(47,-16),(52,-20),
(56.5,17),(58,17),(57,15),(57,14),(57,13),(58,16),(57,11),(56,1),(56,-1),(55,-2),(55,-4),(54,-5),(53,-7),(54,-9),(52,-9),(55,-1)]

fold4_acceptable = [(-11,38.5),(-10,38),(-10.5,38.5),(-5,29.5),(-1.5,24),(3,27),(2.5,27),(3.5,27),(10.5,27),(11,26),(11,23.5),(18.5,10),(19,9.5),(14.5,1.5),(-31,28),(-31,27.5),(-38,1),(5,-10.5),(5,-11.5),(9,-18),(10,-19),(10.5,-20),(11,-20),(12,-20),(14,-20.5),(16,-22.5),(17.5,-18.5),(23,-30.5),(24,-31),(26.5,-31),(28,-30),(28.5,-31.5),(30,-32),(31,-31.5),(32,-31.5),(29,-25),(30,-20),(30,-21),(30,-22),(30.5,-20.5),(34,-23),(34,-23.5),(38.5,-19.5),(39.5,-22),(37,-26),(38,-26),(39,-25.5),(40,-25),(41,-25),(43,-24),(45,-21),(46,-19),(47,-20),(45,-22),(46,-25),(47,-26),(46,-28),(46,-29),(47.5,-23),(48,-25),(49,-25),(49.5,-24),(50,-22.5),(52,-21),(53,-20),(54,-19),(55,-18),(56,-16),(57,-14),(56,-15),(52,-14),(50,-13.5),(49,-16),(51,-14),(52,-12),(53,-12),(55,-12.5),(56,-13),(54,-15),(56,10),(57,10),(56,8),(57,7.5),(56,6),(55,6),(57,6),(55,2.5),(57,3),(56,3),(55,-0.5),(56,5),(56,9),(57,9)]

titles = ["Fold 1", "Fold 2", "Fold 3", "Fold 4"]
series_labels = ["Incorrect", "Acceptable"]
x_ticks = [[-40, -20, 0, 20, 40], [-40, -20, 0, 20, 40], [-40, -20, 0, 20, 40, 60], [-40, -20, 0, 20, 40, 60]]
y_ticks = [[-40, -20, 0, 20, 40], [-40, -20, 0, 20, 40], [-40, -20, 0, 20, 40, 60], [-40, -30, -20, -10, 0, 10, 20, 30, 40]]

# left, right, top, bottom in pixels
boxes = [(42, 428, 52, 339), (467.7, 857, 52.3, 340), (36.7, 427.7, 431, 724.7), (468.3, 857, 432.3, 724.3)]
xlims = [(-58, 48.5), (-54.9, 45.3), (-47.3, 64.7), (-49.2, 62.2)]
ylims = [(-46.1, 52.9), (-58.4, 41.9), (-46.9, 61.5), (-45.4, 43.9)]
title_pos = [(230, 20), (652, 21), (227, 395), (661, 395)]
legend_pos = [((422.7, 56.7), "upper right"), ((473, 334), "lower left"), ((421, 436.7), "upper right"), ((855, 437.7), "upper right")]

incorrect = [fold1_incorrect + fold1_incorrect_more, fold2_incorrect + fold2_incorrect_more,
             fold3_incorrect + fold3_incorrect_more, fold4_incorrect + fold4_incorrect_more]
acceptable = [fold1_acceptable, fold2_acceptable, fold3_acceptable, fold4_acceptable]

fig = plt.figure(figsize=(W / 100, H / 100), dpi=100, facecolor="white")
DARK = "#333333"
for i in range(4):
    l, r, t, b = boxes[i]
    ax = fig.add_axes([l / W, 1 - b / H, (r - l) / W, (b - t) / H])
    gx, gy = zip(*incorrect[i])
    ax.scatter(gx, gy, marker="*", s=26, c="#858585", linewidths=0.9, edgecolors="#858585", label=series_labels[0])
    bx, by = zip(*acceptable[i])
    ax.scatter(bx, by, marker="o", s=24, c="black", linewidths=0, label=series_labels[1])
    ax.set_xlim(*xlims[i])
    ax.set_ylim(*ylims[i])
    ax.set_xticks(x_ticks[i])
    ax.set_yticks(y_ticks[i])
    ax.tick_params(labelsize=7.4, length=3, width=0.7, color=DARK, labelcolor=DARK, pad=3)
    for s in ax.spines.values():
        s.set_color("#7a7a7a")
        s.set_linewidth(1.1)
    (px, py), loc = legend_pos[i]
    anchor = ((px - l) / (r - l), (b - py) / (b - t))
    leg = ax.legend(loc=loc, bbox_to_anchor=anchor, borderaxespad=0, fontsize=7.8, labelcolor=DARK, handletextpad=1.0)
    leg.legend_handles[0].set_sizes([12])
    leg.legend_handles[0].set_linewidths([0.4])
    leg.legend_handles[1].set_sizes([24])
    tx, ty = title_pos[i]
    fig.text(tx / W, 1 - ty / H, titles[i], ha="center", va="center", family="Liberation Serif",
             weight="bold", fontsize=16.5, color="black")

fig.savefig("out.png", dpi=100)
